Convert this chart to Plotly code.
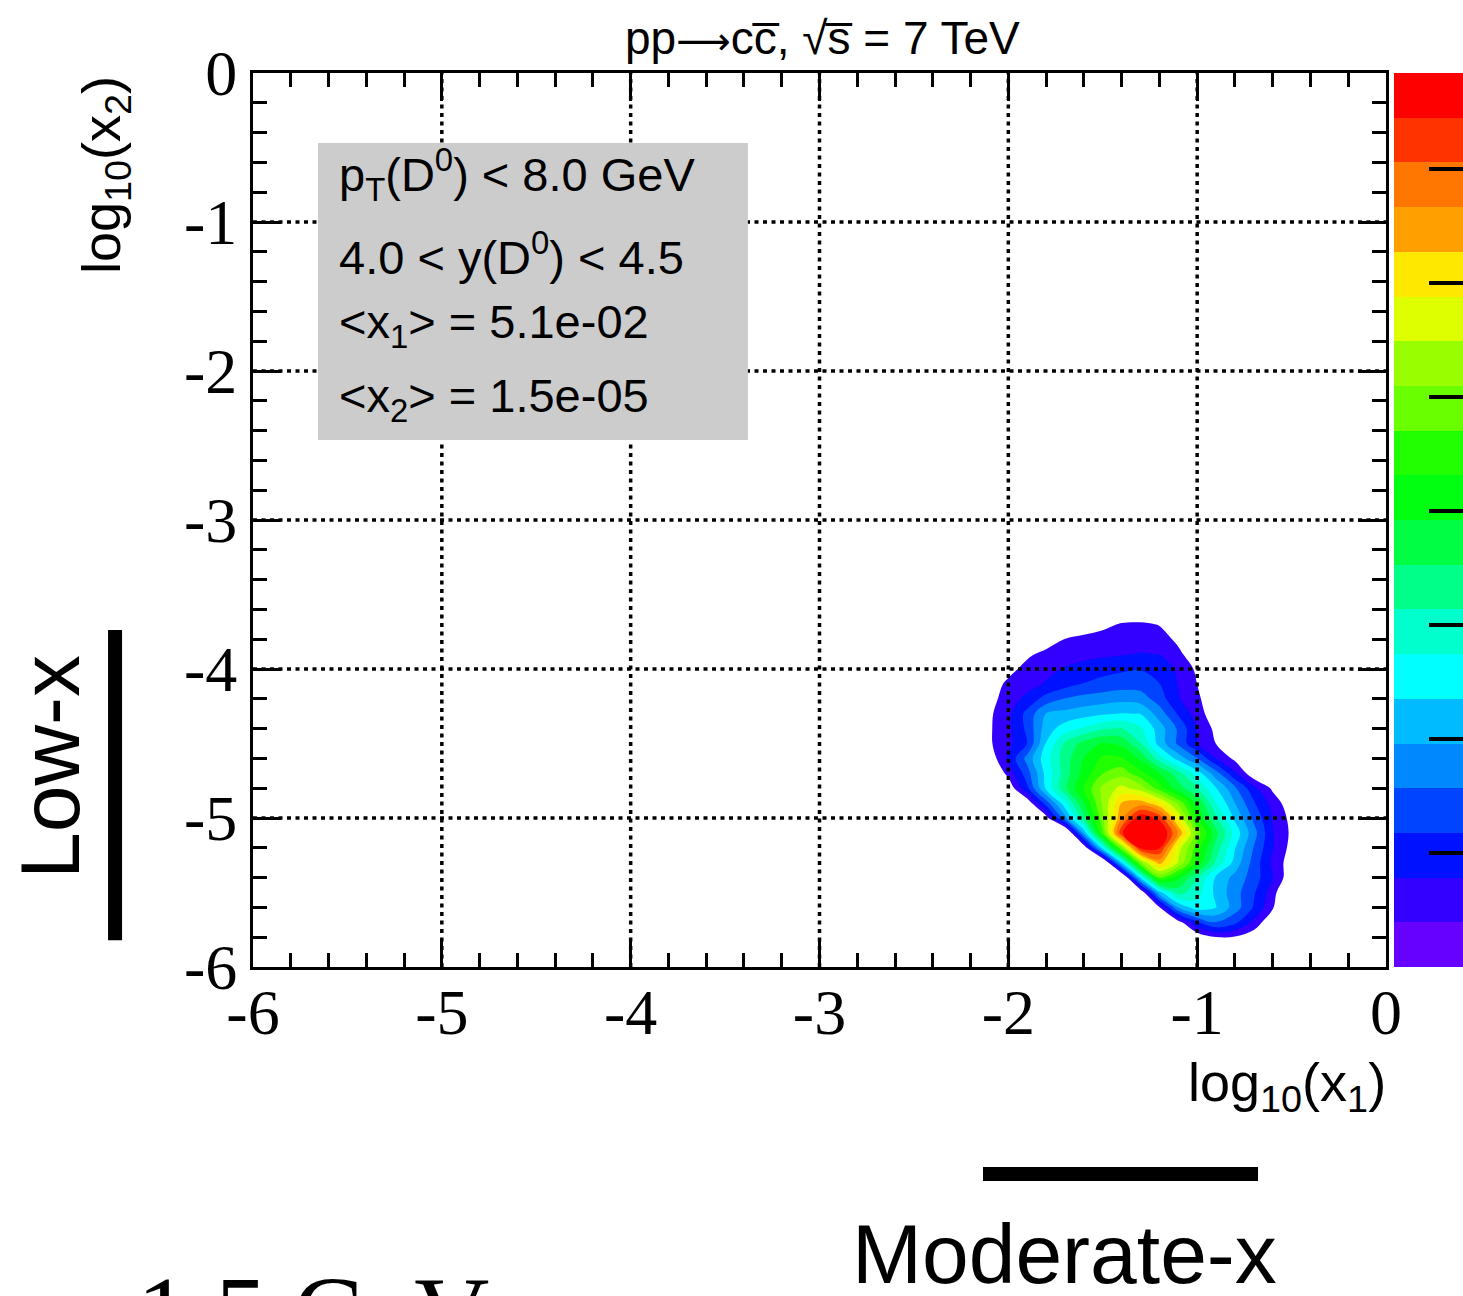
import plotly.graph_objects as go

# ---------------- data ----------------
log_x1_nodes = [-2.2, -2.1, -2.0, -1.9, -1.8, -1.7, -1.6, -1.5, -1.4, -1.3,
                -1.2, -1.1, -1.0, -0.9, -0.8, -0.7, -0.6, -0.5, -0.4]
log_x2_nodes = [-5.9, -5.8, -5.7, -5.6, -5.5, -5.4, -5.3, -5.2, -5.1, -5.0,
                -4.9, -4.8, -4.7, -4.6, -4.5, -4.4, -4.3, -4.2, -4.1, -4.0,
                -3.9, -3.8, -3.7, -3.6]
# density expressed in colour-band units (band k spans level k .. k+1)
density_levels = [
    [-2, -2, -2, -2, -2, -2, -2, -2, -2, -2, -2, -2, -2, -2, -2, -2, -2, -2, -2],
    [-2, -2, -2, -2, -2, -2, -2, -2, -2, -2, -2, -1, 0.2, 0.95, 0.9, 0.3, -1, -2, -2],
    [-3, -3, -3, -3, -3, -3, -3, -3, -3, -3, -3, 0.5, 2.85, 4.05, 3.25, 1.75, 0.0, -2, -2],
    [-3, -3, -3, -3, -3, -3, -3, -3, -3, -3, 0.9, 5.05, 6.6, 6.05, 4.5, 2.9, 1.15, -1.5, -2],
    [-3, -3, -3, -3, -3, -3, -3, -3, -3, -0.15, 5.6, 8.4, 7.4, 5.75, 4.4, 3.13, 1.5, -1, -2],
    [-3, -3, -3, -3, -3, -3, -3, -3, -1.2, 6.1, 12.05, 10.3, 8.05, 5.8, 4.7, 3.5, 2.05, 0.2, -1],
    [-3, -3, -3, -3, -3, -3, -3, -1.1, 5.87, 12.8, 16.4, 13.9, 10.7, 7.86, 5.6, 3.6, 1.8, 0.4, -0.5],
    [-3, -3, -3, -3, -3, -3, 0.04, 6.42, 12.8, 19.3, 19.15, 14.5, 11.5, 8.6, 6.05, 3.94, 2.06, 0.65, -0.5],
    [-3, -3, -3, -3, -3, -1.3, 5.27, 11.84, 18.9, 20.3, 20.5, 16.9, 12.6, 9.3, 6.6, 4.4, 2.06, 0.8, -0.5],
    [-3, -3, -3, -3, 0.51, 4.59, 8.67, 12.75, 16.84, 19.8, 18.7, 14.8, 10.9, 8.1, 5.8, 3.77, 1.92, 0.675, -0.5],
    [-3, -3, -3, 0.22, 3.46, 6.7, 9.94, 13.18, 16.04, 16.5, 15.2, 12.74, 9.91, 7.09, 5.02, 3.11, 1.6, 0.3, -0.5],
    [-3, -2, 0.2, 2.78, 6.17, 8.8, 11.07, 13.28, 14.3, 13.5, 11.5, 9.5, 8.05, 6.06, 4.19, 2.28, 0.8, -0.5, -1],
    [-2, -0.3, 1.32, 3.57, 6.33, 8.49, 10.38, 11.96, 12.6, 11.3, 10.05, 8.4, 6.5, 4.4, 2.2, 0.2, -0.5, -1, -1],
    [-2, 0.3, 2.17, 4.34, 6.62, 8.51, 10.04, 11.2, 11.15, 9.8, 7.5, 5.6, 4.02, 2.02, 0.75, 0, -1, -1, -1],
    [-1, 0.87, 1.7, 3.02, 6.05, 8.14, 9.36, 10.1, 9.75, 8.05, 5.6, 3.8, 2.02, 0.98, 0.1, -0.5, -1, -1, -1],
    [-1, 0.87, 1.74, 3.25, 5.5, 6.5, 7.14, 7.86, 8.05, 7.2, 5.48, 3.83, 1.96, 0.71, 0, -0.5, -1, -1, -1],
    [-0.5, 0.82, 1.73, 3.33, 5.02, 5.3, 5.6, 5.85, 6.05, 5.98, 4.54, 2.87, 1.52, 0.25, 0, -0.5, -1, -1, -1],
    [-0.5, 0.6, 1.5, 2.3, 3.4, 4.05, 4.35, 4.55, 4.7, 4.5, 3.5, 2.1, 1.15, 0.4, 0, 0, 0, 0, 0],
    [-0.5, 0.5, 1.2, 1.6, 2.1, 2.6, 3.05, 3.3, 3.5, 3.55, 3.02, 1.95, 0.99, 0.3, 0, 0, 0, 0, 0],
    [0, 0, 0.7, 1.3, 1.7, 2.1, 2.4, 2.7, 2.85, 2.95, 2.6, 1.8, 0.8, 0.2, 0, 0, 0, 0, 0],
    [0, 0, 0.3, 0.83, 1.25, 1.45, 1.65, 1.8, 1.92, 2.05, 1.98, 1.2, 0.4, 0, 0, 0, 0, 0, 0],
    [0, 0, 0, 0.1, 0.5, 1.02, 1.25, 1.45, 1.6, 1.6, 1.4, 0.8, 0.3, 0, 0, 0, 0, 0, 0],
    [0, 0, 0, 0, 0, 0.1, 0.4, 0.7, 1.1, 1.15, 0.95, 0.3, 0, 0, 0, 0, 0, 0, 0],
    [0, 0, 0, 0, 0, 0, 0, 0, 0, 0, 0, 0, 0, 0, 0, 0, 0, 0, 0],
]

band_colors = ["#6600FF", "#3300FF", "#0011FF", "#0044FF", "#0088FF", "#00BBFF",
               "#00FFFF", "#00FFCC", "#00FF88", "#00FF44", "#00FF11", "#22FF00",
               "#6AFF00", "#99FF00", "#DDFF00", "#FFE800", "#FFA000", "#FF7700",
               "#FF3300", "#FF0000"]
colorbar_bands = list(range(20))
colorbar_ticks = [0, 2.55, 5.1, 7.65, 10.2, 12.75, 15.3, 17.85]

axis_ticks = [-6, -5, -4, -3, -2, -1, 0]
axis_tick_labels = ["-6", "-5", "-4", "-3", "-2", "-1", "0"]
grid_ticks = [-5, -4, -3, -2, -1]

pt_max = 8.0
y_low, y_high = 4.0, 4.5
mean_x1 = 5.1e-02
mean_x2 = 1.5e-05
sqrt_s_tev = 7
charm_mass_gev = 1.5

# ---------------- figure ----------------
SANS = "Liberation Sans, Arial, Helvetica, sans-serif"
SERIF = "Liberation Serif, Times New Roman, serif"

n_lev = len(band_colors) - 1
contour_scale = [[0.0, "rgba(255,255,255,0)"]] + \
    [[k / n_lev, band_colors[k]] for k in range(1, len(band_colors))]

nb = len(band_colors)
bar_scale = []
for k, c in enumerate(band_colors):
    bar_scale.append([k / nb, c])
    bar_scale.append([(k + 1) / nb, c])

fig = go.Figure()

fig.add_trace(go.Contour(
    x=log_x1_nodes, y=log_x2_nodes, z=density_levels,
    autocontour=False,
    contours=dict(start=1, end=n_lev, size=1, coloring="fill", showlines=False),
    colorscale=contour_scale, zmin=0.5, zmax=n_lev + 0.5,
    line=dict(width=0, smoothing=1),
    showscale=False, hoverinfo="skip",
))

fig.add_trace(go.Heatmap(
    z=[[b] for b in colorbar_bands], x=[0], y0=0.5, dy=1,
    colorscale=bar_scale, zmin=-0.5, zmax=nb - 0.5,
    showscale=False, hoverinfo="skip", xaxis="x2", yaxis="y2",
))

main_dom = 1133 / 1210
bar_dom0 = 1141 / 1210

axis_common = dict(
    range=[-6, 0], tickmode="array", tickvals=axis_ticks, ticktext=axis_tick_labels,
    ticks="inside", ticklen=28, tickwidth=3, tickcolor="black",
    showline=True, linewidth=3, linecolor="black", mirror="allticks",
    showgrid=False, zeroline=False, automargin=False,
    tickfont=dict(family=SERIF, size=64, color="black"),
    minor=dict(ticks="inside", ticklen=14, tickwidth=3, tickcolor="black",
               dtick=0.2, tick0=0, showgrid=False),
)

fig.update_layout(
    width=1463, height=1296, autosize=False,
    margin=dict(l=253, r=0, t=73, b=329, pad=0, autoexpand=False),
    paper_bgcolor="white", plot_bgcolor="white",
    showlegend=False,
    font=dict(family=SANS, color="black"),
    xaxis=dict(domain=[0, main_dom], ticklabelstandoff=-13, **axis_common),
    yaxis=dict(domain=[0, 1], ticklabelstandoff=0, **axis_common),
    xaxis2=dict(domain=[bar_dom0, 1.0], range=[-0.5, 0.5], visible=False, anchor="y2",
                automargin=False),
    yaxis2=dict(domain=[0, 1], range=[0, nb], anchor="x2", side="right",
                tickmode="array", tickvals=colorbar_ticks, ticks="inside",
                ticklen=34, tickwidth=4, tickcolor="black", automargin=False,
                showticklabels=False, showgrid=False, zeroline=False, showline=False),
)

shapes = []
for v in grid_ticks:
    shapes.append(dict(type="line", xref="x", yref="y", x0=v, x1=v, y0=-6, y1=0,
                       line=dict(color="black", width=3.5, dash="4px,4.5px"), layer="above"))
    shapes.append(dict(type="line", xref="x", yref="y", x0=-6, x1=0, y0=v, y1=v,
                       line=dict(color="black", width=3.5, dash="4px,4.5px"), layer="above"))
# grey info box
shapes.append(dict(type="rect", xref="x", yref="y", x0=-5.656, x1=-3.379, y0=-2.463, y1=-0.470,
                   fillcolor="#cccccc", line=dict(width=0), layer="above"))
# thick black bars
shapes.append(dict(type="line", xref="paper", yref="paper", x0=-0.1140, x1=-0.1140,
                   y0=0.030, y1=0.377, line=dict(color="black", width=14)))
shapes.append(dict(type="line", xref="paper", yref="paper", x0=0.6033, x1=0.8306,
                   y0=-0.2315, y1=-0.2315, line=dict(color="black", width=14)))
fig.update_layout(shapes=shapes)

def px_x(p):
    return (p - 253) / 1210

def px_y(p):
    return (967 - p) / 894

ann = []
box_lines = [
    f"p<sub>T</sub>(D<sup>0</sup>) &lt; {pt_max:.1f} GeV",
    f"{y_low:.1f} &lt; y(D<sup>0</sup>) &lt; {y_high:.1f}",
    f"&lt;x<sub>1</sub>&gt; = {mean_x1:.1e}",
    f"&lt;x<sub>2</sub>&gt; = {mean_x2:.1e}",
]
box_centers = [175, 254, 325, 399]
for t, yc in zip(box_lines, box_centers):
    ann.append(dict(text=t, xref="paper", yref="paper", x=px_x(337), y=px_y(yc),
                    xanchor="left", yanchor="middle", showarrow=False,
                    font=dict(family=SANS, size=47, color="black")))

ann.append(dict(text=(f"pp<span style=\"font-family:DejaVu Sans;font-size:38px\">\u27F6</span>cc\u0305, "
                      f"\u221As\u0305 = {sqrt_s_tev} TeV"),
                xref="paper", yref="paper",
                x=px_x(822), y=px_y(38), xanchor="center", yanchor="middle", showarrow=False,
                font=dict(family=SANS, size=46, color="black")))
ann.append(dict(text="log<sub>10</sub>(x<sub>2</sub>)", xref="paper", yref="paper",
                x=px_x(105), y=px_y(175), xanchor="center", yanchor="middle", textangle=-90,
                showarrow=False, font=dict(family=SANS, size=54, color="black")))
ann.append(dict(text="log<sub>10</sub>(x<sub>1</sub>)", xref="paper", yref="paper",
                x=px_x(1388), y=px_y(1086), xanchor="right", yanchor="middle",
                showarrow=False, font=dict(family=SANS, size=54, color="black")))
ann.append(dict(text="Low-x", xref="paper", yref="paper", x=px_x(50), y=px_y(767),
                xanchor="center", yanchor="middle", textangle=-90, showarrow=False,
                font=dict(family=SANS, size=84, color="black")))
ann.append(dict(text="Moderate-x", xref="paper", yref="paper", x=px_x(1064), y=px_y(1254),
                xanchor="center", yanchor="middle", showarrow=False,
                font=dict(family=SANS, size=84, color="black")))
ann.append(dict(text=f"{charm_mass_gev} GeV", xref="paper", yref="paper", x=px_x(135), y=px_y(1253),
                xanchor="left", yanchor="top", showarrow=False,
                font=dict(family=SERIF, size=104, color="black")))
fig.update_layout(annotations=ann)

fig.write_html("out.html", config={"responsive": False})
